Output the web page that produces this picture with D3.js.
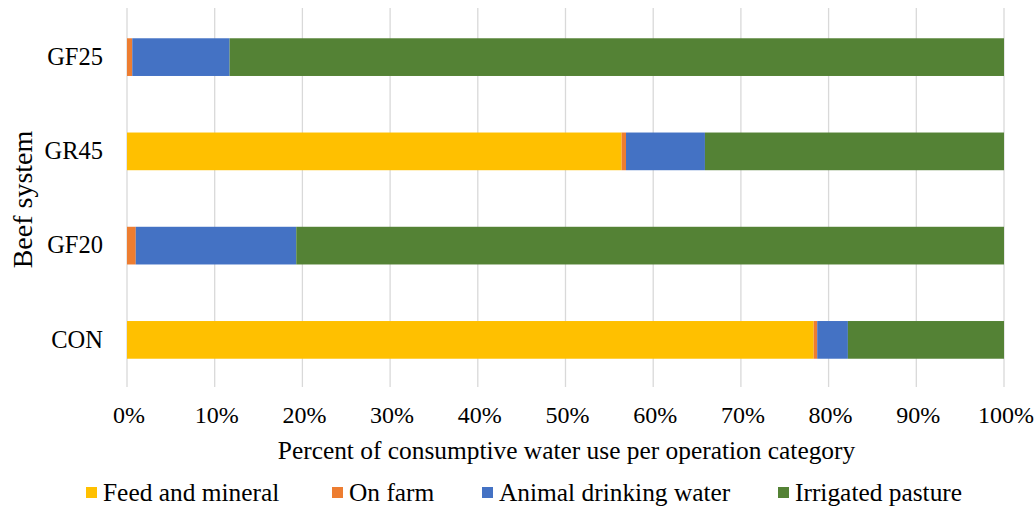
<!DOCTYPE html>
<html>
<head>
<meta charset="utf-8">
<script src="https://cdn.jsdelivr.net/npm/d3@7"></script>
<style>
  html, body { margin: 0; padding: 0; background: #fff; }
  svg { display: block; font-family: "Liberation Serif", "Times New Roman", serif; }
</style>
</head>
<body>
<svg id="chart" width="1035" height="506"></svg>
<script>
// Beef systems, top to bottom
const systems = ["GF25", "GR45", "GF20", "CON"];
// Share of consumptive water use (%) per operation category
const feedAndMineral   = [0.0, 56.4, 0.0, 78.3];
const onFarm           = [0.6, 0.5, 1.0, 0.4];
const animalDrinking   = [11.1, 9.0, 18.3, 3.5];
const irrigatedPasture = [88.3, 34.1, 80.7, 17.8];
const seriesNames  = ["Feed and mineral", "On farm", "Animal drinking water", "Irrigated pasture"];
const seriesColors = ["#FFC000", "#ED7D31", "#4472C4", "#548235"];
const tickValues = [0, 10, 20, 30, 40, 50, 60, 70, 80, 90, 100];

const seriesValues = [feedAndMineral, onFarm, animalDrinking, irrigatedPasture];
const rows = systems.map((s, i) => {
  const r = { system: s };
  seriesNames.forEach((n, k) => { r[n] = seriesValues[k][i]; });
  return r;
});

const svg = d3.select("#chart");
const margin = { left: 127, right: 31, top: 10, bottom: 119 };
const W = 1035, H = 506;
const serif = "Liberation Serif, Times New Roman, serif";

const x = d3.scaleLinear().domain([0, 100]).range([margin.left, W - margin.right]);
const y = d3.scaleBand().domain(systems).range([margin.top, H - margin.bottom]).paddingInner(0.6).paddingOuter(0.3);

// vertical gridlines
svg.append("g")
  .selectAll("line")
  .data(tickValues)
  .join("line")
  .attr("x1", d => x(d)).attr("x2", d => x(d))
  .attr("y1", margin.top - 2).attr("y2", H - margin.bottom)
  .attr("stroke", "#d9d9d9").attr("stroke-width", 1.3);

// stacked bars
const stacked = d3.stack().keys(seriesNames)(rows);
svg.append("g")
  .selectAll("g")
  .data(stacked)
  .join("g")
  .attr("fill", (d, i) => seriesColors[i])
  .selectAll("rect")
  .data(d => d)
  .join("rect")
  .attr("x", d => x(d[0]))
  .attr("width", d => x(d[1]) - x(d[0]))
  .attr("y", d => y(d.data.system))
  .attr("height", y.bandwidth());

// x axis tick labels
const xAxis = d3.axisBottom(x).tickValues(tickValues).tickFormat(d => d + "%").tickSize(0).tickPadding(0);
const gx = svg.append("g").attr("transform", `translate(0,${H - margin.bottom + 19})`).call(xAxis);
gx.select(".domain").remove();
gx.selectAll("text").attr("font-family", serif).attr("font-size", 24).attr("fill", "#000").attr("dy", "0.71em")
  .attr("dx", 1.5);

// y axis category labels
const yAxis = d3.axisLeft(y).tickSize(0).tickPadding(24);
const gy = svg.append("g").attr("transform", `translate(${margin.left},0)`).call(yAxis);
gy.select(".domain").remove();
gy.selectAll("text").attr("font-family", serif).attr("font-size", 24.5).attr("fill", "#000");

// axis titles
svg.append("text")
  .attr("x", (x(0) + x(100)) / 2 + 1).attr("y", 459)
  .attr("text-anchor", "middle").attr("font-size", 25.4).attr("fill", "#000")
  .text("Percent of consumptive water use per operation category");

svg.append("text")
  .attr("transform", `translate(32,${y.range()[0] + (y.range()[1] - y.range()[0]) / 2 + 1}) rotate(-90)`)
  .attr("text-anchor", "middle").attr("font-size", 28).attr("fill", "#000")
  .text("Beef system");

// legend
const legendX = [86, 332, 482, 778];
const legend = svg.append("g").attr("transform", "translate(0,492)");
const items = legend.selectAll("g").data(seriesNames).join("g")
  .attr("transform", (d, i) => `translate(${legendX[i]},0)`);
items.append("rect").attr("x", 0).attr("y", -5).attr("width", 11).attr("height", 11)
  .attr("fill", (d, i) => seriesColors[i]);
items.append("text").attr("x", 17).attr("y", 0).attr("dy", "0.35em")
  .attr("font-size", 25.4).attr("fill", "#000").text(d => d);
</script>
</body>
</html>
